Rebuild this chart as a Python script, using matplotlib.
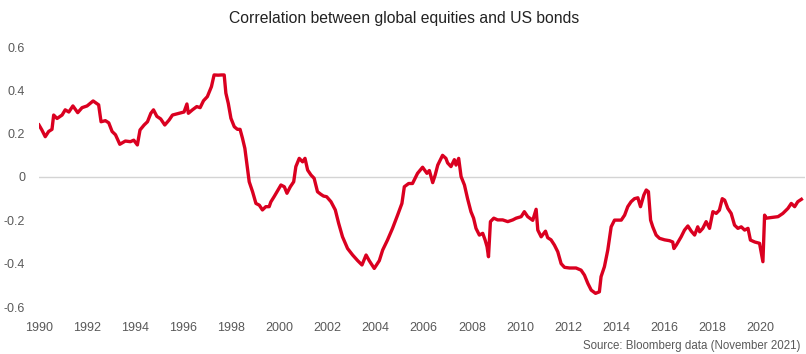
import matplotlib
matplotlib.use("Agg")
import matplotlib.pyplot as plt

# ---- data ----
years = [
    1990.00, 1990.12, 1990.26, 1990.40, 1990.54, 1990.61, 1990.75, 1990.96, 1991.09, 1991.24,
    1991.41, 1991.61, 1991.79, 1992.00, 1992.25, 1992.48, 1992.58, 1992.76, 1992.90, 1993.04,
    1993.18, 1993.36, 1993.59, 1993.80, 1993.94, 1994.09, 1994.20, 1994.37, 1994.51, 1994.65,
    1994.76, 1994.90, 1995.06, 1995.23, 1995.41, 1995.55, 1995.83, 1996.03, 1996.15, 1996.21,
    1996.38, 1996.56, 1996.70, 1996.84, 1997.00, 1997.17, 1997.28, 1997.45, 1997.59, 1997.70,
    1997.77, 1997.87, 1997.98, 1998.12, 1998.25, 1998.36, 1998.46, 1998.56, 1998.64, 1998.74,
    1998.88, 1999.02, 1999.16, 1999.29, 1999.43, 1999.57, 1999.64, 1999.78, 1999.92, 2000.06,
    2000.20, 2000.31, 2000.45, 2000.59, 2000.68, 2000.82, 2000.96, 2001.06, 2001.17, 2001.31,
    2001.44, 2001.58, 2001.72, 2001.83, 2001.96, 2002.14, 2002.32, 2002.46, 2002.62, 2002.83,
    2003.04, 2003.25, 2003.43, 2003.60, 2003.73, 2003.94, 2004.15, 2004.29, 2004.49, 2004.70,
    2004.91, 2005.09, 2005.19, 2005.37, 2005.53, 2005.74, 2005.95, 2006.13, 2006.23, 2006.37,
    2006.47, 2006.58, 2006.78, 2006.92, 2006.99, 2007.13, 2007.27, 2007.34, 2007.45, 2007.55,
    2007.69, 2007.82, 2007.96, 2008.07, 2008.17, 2008.31, 2008.45, 2008.55, 2008.63, 2008.69,
    2008.77, 2008.91, 2009.07, 2009.28, 2009.49, 2009.70, 2009.84, 2010.05, 2010.18, 2010.32,
    2010.53, 2010.67, 2010.74, 2010.88, 2011.06, 2011.15, 2011.29, 2011.43, 2011.57, 2011.71,
    2011.85, 2012.06, 2012.33, 2012.54, 2012.68, 2012.82, 2012.96, 2013.14, 2013.30, 2013.37,
    2013.51, 2013.65, 2013.79, 2013.93, 2014.21, 2014.35, 2014.48, 2014.62, 2014.76, 2014.90,
    2015.01, 2015.15, 2015.25, 2015.34, 2015.43, 2015.52, 2015.66, 2015.80, 2016.01, 2016.22,
    2016.35, 2016.40, 2016.50, 2016.70, 2016.84, 2016.98, 2017.12, 2017.26, 2017.39, 2017.47,
    2017.60, 2017.74, 2017.88, 2018.02, 2018.16, 2018.29, 2018.41, 2018.51, 2018.64, 2018.78,
    2018.92, 2019.06, 2019.20, 2019.34, 2019.48, 2019.58, 2019.76, 2019.96, 2020.10, 2020.17,
    2020.24, 2020.52, 2020.73, 2020.93, 2021.14, 2021.28, 2021.42, 2021.55, 2021.70,
]
correlation = [
    0.240, 0.217, 0.186, 0.210, 0.220, 0.286, 0.270, 0.286, 0.310, 0.300,
    0.328, 0.297, 0.320, 0.328, 0.351, 0.333, 0.255, 0.260, 0.250, 0.210,
    0.195, 0.151, 0.166, 0.163, 0.170, 0.148, 0.217, 0.240, 0.255, 0.294,
    0.310, 0.280, 0.268, 0.240, 0.263, 0.286, 0.294, 0.300, 0.337, 0.294,
    0.310, 0.325, 0.320, 0.352, 0.371, 0.417, 0.471, 0.470, 0.471, 0.471,
    0.387, 0.340, 0.271, 0.232, 0.220, 0.220, 0.179, 0.132, 0.063, -0.022,
    -0.068, -0.122, -0.130, -0.152, -0.137, -0.137, -0.115, -0.090, -0.063, -0.037,
    -0.045, -0.075, -0.045, -0.022, 0.048, 0.086, 0.070, 0.086, 0.032, 0.009,
    -0.006, -0.068, -0.080, -0.088, -0.091, -0.114, -0.152, -0.214, -0.276, -0.330,
    -0.360, -0.386, -0.406, -0.360, -0.386, -0.422, -0.386, -0.337, -0.291, -0.237,
    -0.176, -0.122, -0.045, -0.030, -0.030, 0.017, 0.045, 0.017, 0.030, -0.026,
    0.008, 0.055, 0.100, 0.086, 0.065, 0.048, 0.080, 0.055, 0.086, 0.002,
    -0.037, -0.100, -0.160, -0.190, -0.237, -0.268, -0.260, -0.291, -0.322, -0.368,
    -0.206, -0.190, -0.198, -0.198, -0.206, -0.198, -0.190, -0.183, -0.160, -0.183,
    -0.200, -0.149, -0.245, -0.276, -0.250, -0.280, -0.290, -0.314, -0.345, -0.400,
    -0.417, -0.420, -0.420, -0.430, -0.453, -0.491, -0.522, -0.537, -0.530, -0.460,
    -0.414, -0.337, -0.230, -0.199, -0.199, -0.176, -0.137, -0.114, -0.100, -0.096,
    -0.137, -0.083, -0.060, -0.068, -0.199, -0.230, -0.268, -0.283, -0.290, -0.294,
    -0.300, -0.330, -0.314, -0.276, -0.245, -0.226, -0.250, -0.268, -0.230, -0.253,
    -0.237, -0.206, -0.237, -0.160, -0.168, -0.153, -0.100, -0.107, -0.145, -0.168,
    -0.222, -0.237, -0.230, -0.245, -0.237, -0.291, -0.300, -0.306, -0.391, -0.176,
    -0.190, -0.186, -0.183, -0.168, -0.145, -0.122, -0.137, -0.114, -0.103,
]
x_ticks = list(range(1990, 2021, 2))
y_ticks = [-0.6, -0.4, -0.2, 0, 0.2, 0.4, 0.6]
y_tick_labels = ["-0.6", "-0.4", "-0.2", "0", "0.2", "0.4", "0.6"]
title = "Correlation between global equities and US bonds"
source = "Source: Bloomberg data (November 2021)"

plt.rcParams["font.family"] = ["Liberation Sans", "DejaVu Sans"]

W, H = 806, 354
fig = plt.figure(figsize=(W / 100, H / 100), dpi=100)
ax = fig.add_axes([39 / W, 1 - 307 / H, (805 - 39) / W, (307 - 47) / H])

ax.axhline(0, color="#d4d4d4", lw=1.0, zorder=1)
ax.plot(years, correlation, color="#DA0020", lw=2.4, solid_joinstyle="round", zorder=3)

ax.set_xlim(1990.0, 2021.85)
ax.set_ylim(-0.6, 0.6)
ax.set_xticks(x_ticks)
ax.set_xticklabels([str(y) for y in x_ticks])
ax.set_yticks(y_ticks)
ax.set_yticklabels(y_tick_labels)
ax.tick_params(axis="both", length=0, colors="#595959", labelsize=9)
ax.tick_params(axis="y", pad=10)
ax.tick_params(axis="x", pad=11)
for s in ax.spines.values():
    s.set_visible(False)

fig.text(0.502, 1 - 18 / H, title, ha="center", va="center", fontsize=11.3, color="#222222")
fig.text(800 / W, 1 - 346 / H, source, ha="right", va="center", fontsize=8.3, color="#595959")

fig.savefig("out.png", dpi=100)
